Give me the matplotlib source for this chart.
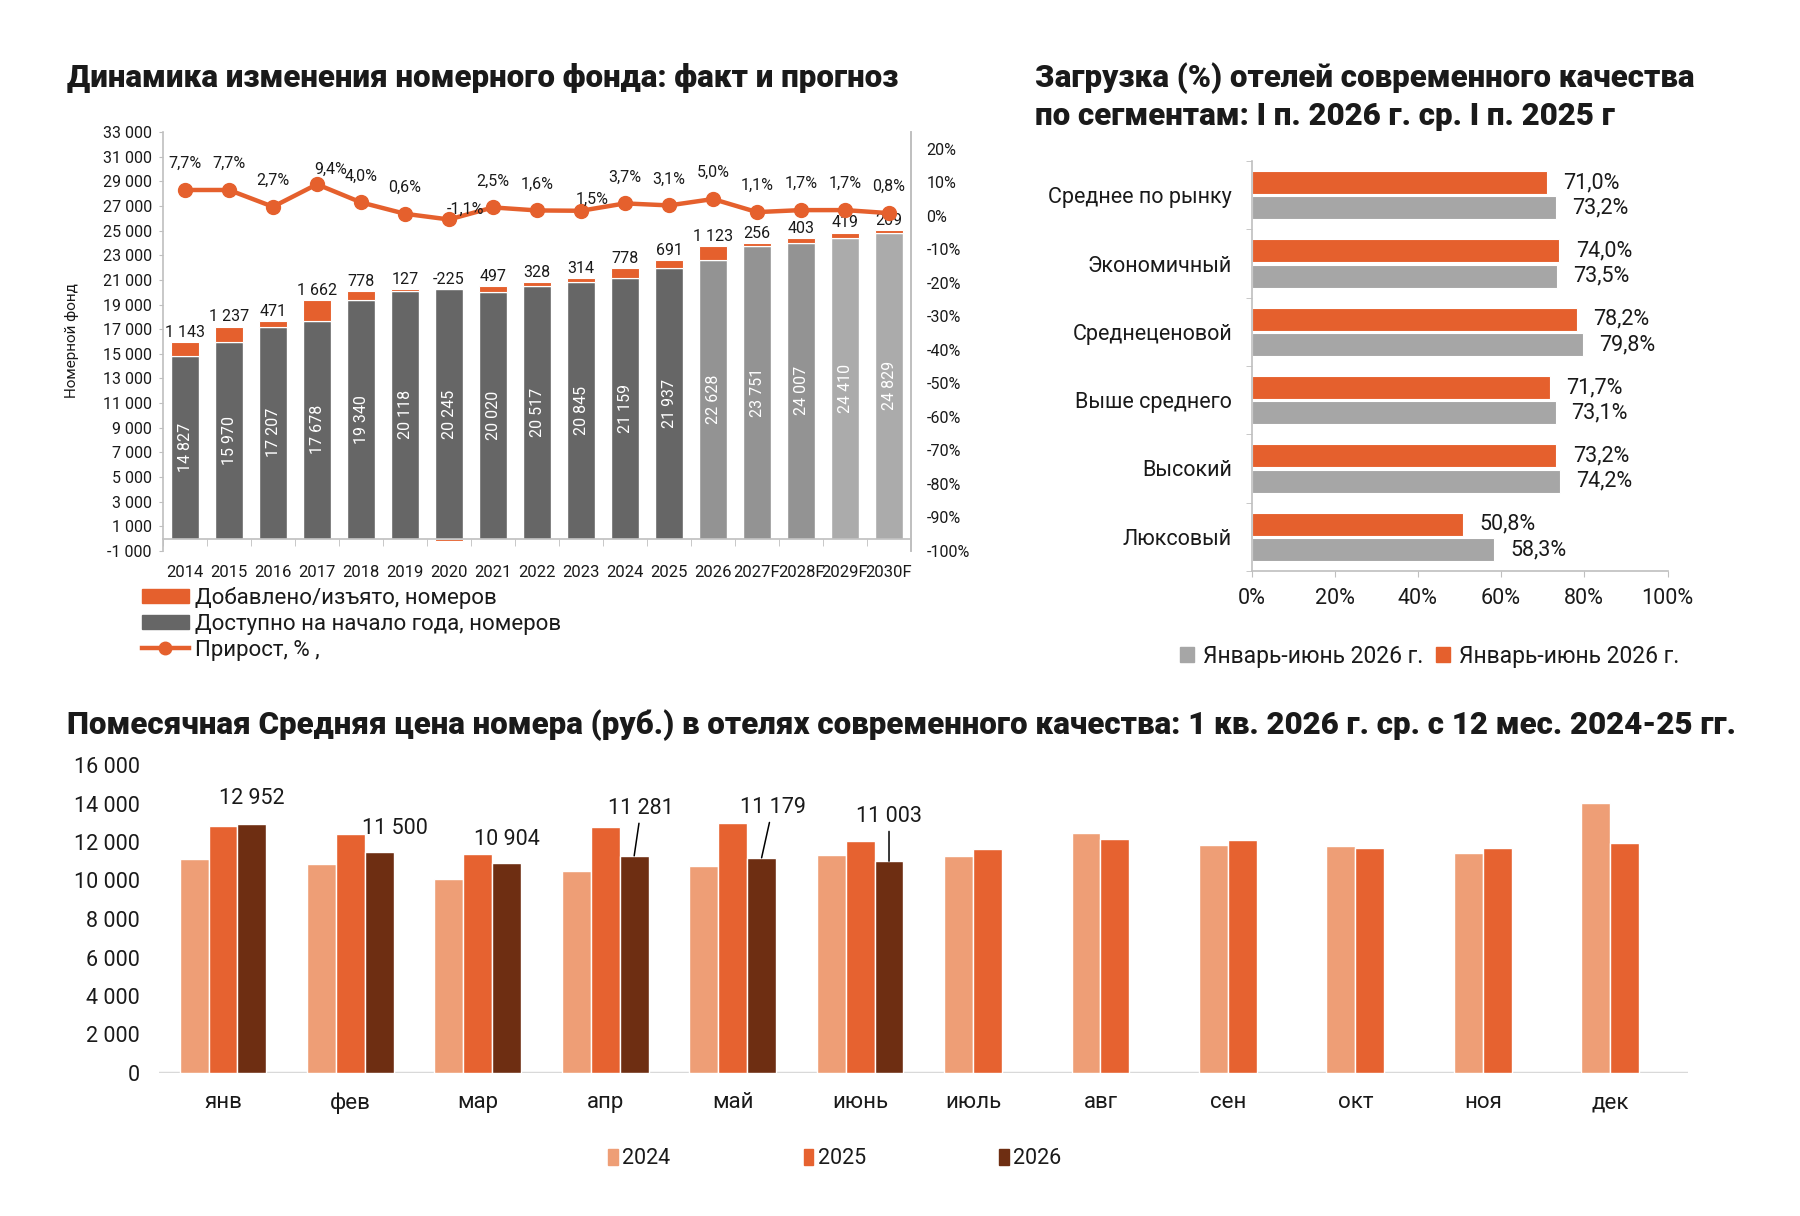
import numpy as np
import matplotlib
matplotlib.use("Agg")
import matplotlib.pyplot as plt
from matplotlib.patches import Patch
from matplotlib.lines import Line2D

plt.rcParams["font.family"] = ["Roboto", "DejaVu Sans"]
plt.rcParams["axes.unicode_minus"] = False
plt.rcParams["text.color"] = "#1a1a1a"
plt.rcParams["xtick.color"] = "#1a1a1a"
plt.rcParams["ytick.color"] = "#1a1a1a"

# --- данные: номерной фонд ---
years = ["2014", "2015", "2016", "2017", "2018", "2019", "2020", "2021", "2022",
         "2023", "2024", "2025", "2026", "2027F", "2028F", "2029F", "2030F"]
stock = [14827, 15970, 17207, 17678, 19340, 20118, 20245, 20020, 20517,
         20845, 21159, 21937, 22628, 23751, 24007, 24410, 24829]
added = [1143, 1237, 471, 1662, 778, 127, -225, 497, 328,
         314, 778, 691, 1123, 256, 403, 419, 209]
growth = [7.7, 7.7, 2.7, 9.4, 4.0, 0.6, -1.1, 2.5, 1.6, 1.5, 3.7, 3.1, 5.0, 1.1, 1.7, 1.7, 0.8]

# --- данные: загрузка по сегментам ---
segments = ["Среднее по рынку", "Экономичный", "Среднеценовой", "Выше среднего", "Высокий", "Люксовый"]
occ_orange = [71.0, 74.0, 78.2, 71.7, 73.2, 50.8]
occ_grey = [73.2, 73.5, 79.8, 73.1, 74.2, 58.3]
occ_labels = ["Январь-июнь 2026 г.", "Январь-июнь 2026 г."]

# --- данные: средняя цена по месяцам ---
months = ["янв", "фев", "мар", "апр", "май", "июнь", "июль", "авг", "сен", "окт", "ноя", "дек"]
price_2024 = [11100, 10870, 10090, 10470, 10750, 11340, 11250, 12470, 11860, 11790, 11410, 14040]
price_2025 = [12810, 12410, 11360, 12760, 13000, 12030, 11650, 12170, 12120, 11700, 11690, 11930]
price_2026 = [12952, 11500, 10904, 11281, 11179, 11003]

ORANGE = "#E5602D"
DARK = "#666666"
MID = "#939393"
LIGHT = "#ABABAB"
GREY = "#A6A6A6"
C24, C25, C26 = "#EE9E76", "#E66230", "#6E2E12"
AXC = "#bfbfbf"

W, H = 1800, 1216
TITLE = dict(fontsize=22.5, fontweight="heavy", va="center", ha="left")


def fmt(v):
    return f"{v:,}".replace(",", " ")


def pct(v):
    return f"{v:.1f}%".replace(".", ",")


fig = plt.figure(figsize=(W / 100, H / 100), dpi=100)

# ================= номерной фонд =================
fig.text(67 / W, 1 - 78 / H, "Динамика изменения номерного фонда: факт и прогноз", **TITLE)

ax1 = fig.add_axes([163 / W, 1 - 551 / H, 748 / W, 419 / H])
x = np.arange(len(years))
bar_colors = []
for y in years:
    yr = int(y[:4])
    bar_colors.append(DARK if yr < 2026 else (MID if yr < 2029 else LIGHT))

ax1.bar(x, stock, 0.65, color=bar_colors, edgecolor="white", linewidth=1, zorder=2)
add_bottom = [s if a >= 0 else 0 for s, a in zip(stock, added)]
ax1.bar(x, added, 0.65, bottom=add_bottom, color=ORANGE, edgecolor="white", linewidth=0.8, zorder=2)

for i, (s, a) in enumerate(zip(stock, added)):
    ax1.text(i, s / 2, fmt(s), rotation=90, ha="center", va="center",
             color="white", fontsize=11.5, zorder=4)
    top = s + max(a, 0)
    ax1.annotate(fmt(a), (i, top), xytext=(0, 7), textcoords="offset points",
                 ha="center", va="center", fontsize=11.5, zorder=4)

ax1.set_xlim(-0.5, len(years) - 0.5)
ax1.set_ylim(-1000, 33000)
yt = list(range(-1000, 33001, 2000))
ax1.set_yticks(yt, [fmt(v) for v in yt])
ax1.set_xticks(x, years)
ax1.set_xticks(np.arange(-0.5, len(years)), minor=True)
ax1.tick_params(axis="x", which="major", length=0, pad=19, labelsize=12)
ax1.tick_params(axis="x", which="minor", length=5, color=AXC)
ax1.tick_params(axis="y", length=3, color=AXC, labelsize=11.5, pad=5)
ax1.spines["top"].set_visible(False)
ax1.spines["bottom"].set_position(("data", 0))
for sp in ("left", "bottom", "right"):
    ax1.spines[sp].set_color(AXC)
    ax1.spines[sp].set_linewidth(1.2)
fig.text(72 / W, 1 - 341 / H, "Номерной фонд", rotation=90, ha="center", va="center", fontsize=11)

ax2 = ax1.twinx()
ax2.plot(x, growth, color=ORANGE, lw=3.2, marker="o", ms=10, zorder=5)
ax2.set_ylim(-100, 25)
gt = list(range(-100, 21, 10))
ax2.set_yticks(gt, [f"{v}%" for v in gt])
ax2.tick_params(axis="y", length=0, pad=11, labelsize=11.5)
for sp in ("top", "left", "bottom"):
    ax2.spines[sp].set_visible(False)
ax2.spines["right"].set_color(AXC)
ax2.spines["right"].set_linewidth(1.2)

label_shift = {3: (10, 11), 6: (12, 7), 9: (8, 8)}
for i, g in enumerate(growth):
    dx, dy = label_shift.get(i, (0, 19))
    ax2.annotate(pct(g), (i, g), xytext=(dx, dy), textcoords="offset points",
                 ha="center", va="center", fontsize=11.5, zorder=6)

leg_handles = [Patch(color=ORANGE), Patch(color=DARK),
               Line2D([0], [0], color=ORANGE, lw=3.2, marker="o", ms=9)]
leg_labels = ["Добавлено/изъято, номеров", "Доступно на начало года, номеров", "Прирост, % ,"]
fig.legend(leg_handles, leg_labels, loc="upper left", bbox_to_anchor=(142 / W, 1 - 587 / H),
           frameon=False, fontsize=16, handlelength=2.1, handleheight=0.6,
           handletextpad=0.3, labelspacing=0.22, borderpad=0, borderaxespad=0)

# ================= загрузка =================
fig.text(1035 / W, 1 - 78 / H, "Загрузка (%) отелей современного качества", **TITLE)
fig.text(1035 / W, 1 - 116 / H, "по сегментам: I п. 2026 г. ср. I п. 2025 г", **TITLE)

ax3 = fig.add_axes([1251.5 / W, 1 - 571 / H, 416 / W, 410 / H])
idx = np.arange(len(segments))
ax3.barh(idx - 0.185, occ_orange, 0.34, color=ORANGE, edgecolor="white", linewidth=0.8)
ax3.barh(idx + 0.185, occ_grey, 0.34, color=GREY, edgecolor="white", linewidth=0.8)
for i in idx:
    ax3.annotate(pct(occ_orange[i]), (occ_orange[i], i - 0.185), xytext=(12, 0),
                 textcoords="offset points", ha="left", va="center", fontsize=15.5)
    ax3.annotate(pct(occ_grey[i]), (occ_grey[i], i + 0.185), xytext=(11.5, 0),
                 textcoords="offset points", ha="left", va="center", fontsize=15.5)
ax3.set_ylim(len(segments) - 0.5, -0.5)
ax3.set_xlim(0, 100)
ax3.set_yticks(idx, segments)
ax3.set_yticks(np.arange(-0.5, len(segments)), minor=True)
ax3.set_xticks(range(0, 101, 20), [f"{v}%" for v in range(0, 101, 20)])
ax3.tick_params(axis="y", which="major", length=0, pad=14, labelsize=15.5)
ax3.tick_params(axis="y", which="minor", length=4, color=AXC)
ax3.tick_params(axis="x", length=4, color=AXC, pad=8, labelsize=15.5)
for sp in ("top", "right"):
    ax3.spines[sp].set_visible(False)
for sp in ("left", "bottom"):
    ax3.spines[sp].set_color(AXC)
    ax3.spines[sp].set_linewidth(1.2)

fig.legend([Patch(color=GREY), Patch(color=ORANGE)], occ_labels, loc="center left",
           bbox_to_anchor=(1180 / W, 1 - 656 / H), ncol=2, frameon=False, fontsize=16.5,
           handlelength=0.6, handleheight=0.6, handletextpad=0.4, columnspacing=0.55,
           borderpad=0, borderaxespad=0)

# ================= средняя цена =================
fig.text(67 / W, 1 - 725 / H,
         "Помесячная Средняя цена номера (руб.) в отелях современного качества: 1 кв. 2026 г. ср. с 12 мес. 2024-25 гг.",
         **TITLE)

ax4 = fig.add_axes([159.3 / W, 1 - 1073 / H, 1529 / W, 308 / H])
m = np.arange(len(months))
w = 0.227
n26 = len(price_2026)
ax4.bar(m - w, price_2024, w, color=C24, edgecolor="white", linewidth=1)
ax4.bar(m, price_2025, w, color=C25, edgecolor="white", linewidth=1)
ax4.bar(m[:n26] + w, price_2026, w, color=C26, edgecolor="white", linewidth=1)
ax4.axhline(0, color="#d9d9d9", lw=2.5, zorder=0)

lab_off = [(0, 18, False), (11.5, 17, False), (0, 17, False),
           (5, 34, True), (8, 36, True), (0, 32, True)]
for i, v in enumerate(price_2026):
    dx, dy, lead = lab_off[i]
    ap = dict(arrowstyle="-", color="black", lw=1.1, shrinkA=1, shrinkB=0) if lead else None
    ax4.annotate(fmt(v), (m[i] + w, v), xytext=(dx, dy), textcoords="offset points",
                 ha="center", va="center", fontsize=15.5, arrowprops=ap)

tick_pos = [i if i < n26 else i - w / 2 for i in m]
ax4.set_xticks(tick_pos, months)
ax4.set_xlim(-0.5, len(months) - 0.5)
ax4.set_ylim(0, 16000)
pt = list(range(0, 16001, 2000))
ax4.set_yticks(pt, [fmt(v) for v in pt])
ax4.tick_params(axis="x", length=0, pad=14, labelsize=16)
ax4.tick_params(axis="y", length=0, pad=14, labelsize=15.5)
for sp in ax4.spines.values():
    sp.set_visible(False)

fig.legend([Patch(color=C24), Patch(color=C25), Patch(color=C26)], ["2024", "2025", "2026"],
           loc="center left", bbox_to_anchor=(608 / W, 1 - 1159 / H), ncol=3, frameon=False,
           fontsize=15.5, handlelength=0.45, handleheight=0.8, handletextpad=0.2,
           columnspacing=6.2, borderpad=0, borderaxespad=0)

fig.savefig("out.png", dpi=100)
